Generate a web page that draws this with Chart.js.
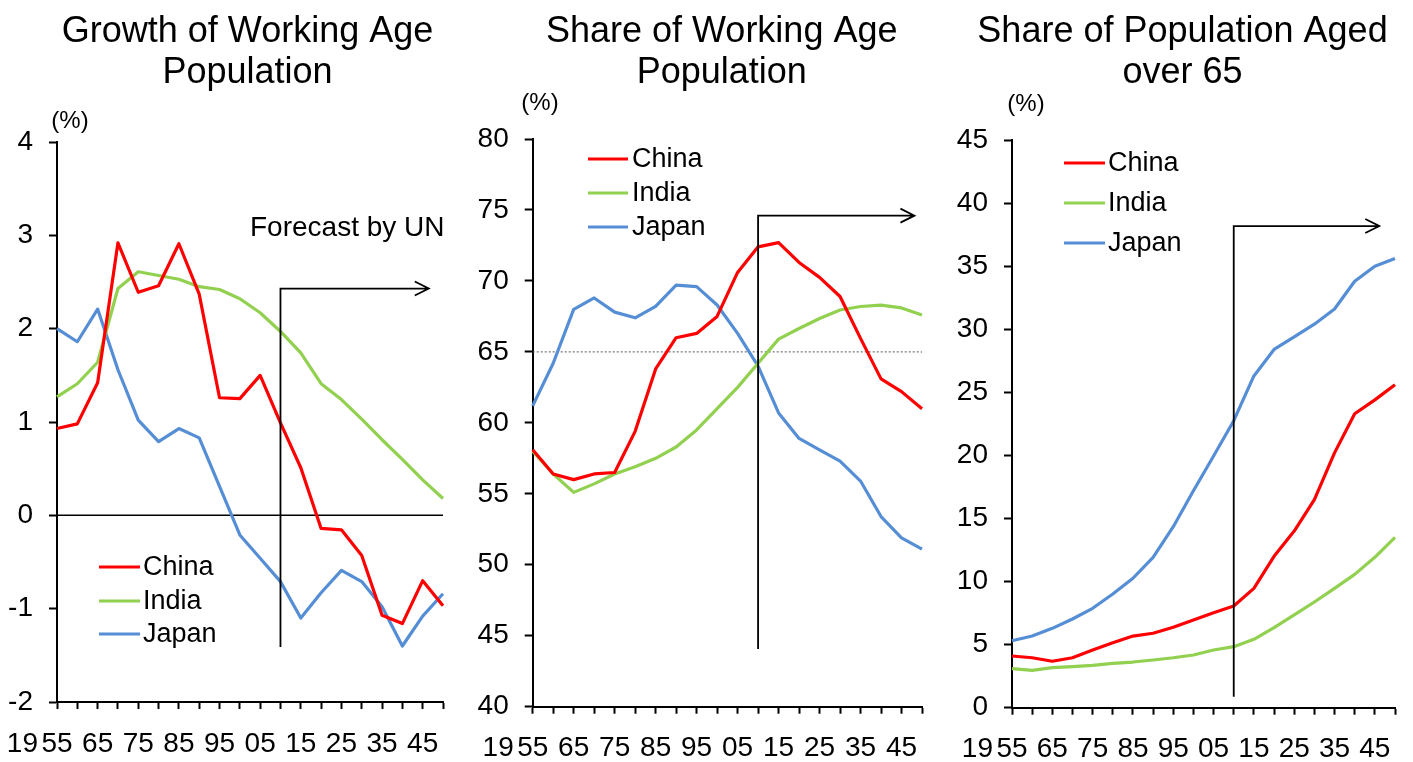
<!DOCTYPE html>
<html>
<head>
<meta charset="utf-8">
<script src="https://cdn.jsdelivr.net/npm/chart.js@4.4.1/dist/chart.umd.min.js"></script>
<style>
  body { margin: 0; background: #fff; }
  .panel { position: absolute; top: 0; }
</style>
</head>
<body>
<div class="panel" style="left:0px"><canvas id="c1" width="470" height="762"></canvas></div>
<div class="panel" style="left:470px"><canvas id="c2" width="470" height="762"></canvas></div>
<div class="panel" style="left:940px"><canvas id="c3" width="473" height="762"></canvas></div>
<script>
// categories, every 5 years
const years = ['1955','1960','1965','1970','1975','1980','1985','1990','1995','2000',
               '2005','2010','2015','2020','2025','2030','2035','2040','2045','2050'];
const xTickLabels = ['55','','65','','75','','85','','95','',
                     '05','','15','','25','','35','','45',''];
const countries = ['China', 'India', 'Japan'];

// growth of working age population (%)
const growthChina = [0.93, 0.98, 1.42, 2.92, 2.39, 2.46, 2.91, 2.37, 1.26, 1.25,
                     1.50, 0.99, 0.51, -0.14, -0.155, -0.43, -1.07, -1.16, -0.70, -0.97];
const growthIndia = [1.27, 1.41, 1.64, 2.43, 2.61, 2.57, 2.53, 2.45, 2.42, 2.32,
                     2.17, 1.97, 1.74, 1.41, 1.24, 1.03, 0.81, 0.60, 0.38, 0.18];
const growthJapan = [2.00, 1.86, 2.21, 1.56, 1.02, 0.79, 0.93, 0.83, 0.31, -0.21,
                     -0.46, -0.71, -1.10, -0.83, -0.59, -0.71, -0.98, -1.40, -1.08, -0.84];

// share of working age population (%)
const shareChina = [58.1, 56.4, 56.0, 56.4, 56.5, 59.4, 63.8, 66.0, 66.3, 67.5,
                    70.6, 72.4, 72.7, 71.3, 70.25, 68.9, 65.95, 63.1, 62.2, 61.0];
const shareIndia = [58.0, 56.4, 55.1, 55.7, 56.4, 56.9, 57.5, 58.3, 59.5, 61.0,
                    62.5, 64.2, 65.9, 66.65, 67.35, 67.95, 68.2, 68.3, 68.1, 67.6];
const shareJapan = [61.2, 64.2, 68.0, 68.8, 67.8, 67.4, 68.2, 69.7, 69.6, 68.3,
                    66.3, 64.0, 60.7, 58.9, 58.1, 57.3, 55.9, 53.4, 51.9, 51.1];

// share of population aged over 65 (%)
const agedChina = [4.10, 3.96, 3.68, 3.96, 4.57, 5.15, 5.68, 5.90, 6.37, 6.95,
                   7.53, 8.06, 9.46, 12.0, 14.0, 16.5, 20.2, 23.3, 24.4, 25.6];
const agedIndia = [3.09, 2.96, 3.17, 3.25, 3.36, 3.52, 3.62, 3.78, 3.96, 4.18,
                   4.57, 4.84, 5.42, 6.34, 7.35, 8.38, 9.46, 10.57, 11.92, 13.5];
const agedJapan = [5.31, 5.68, 6.29, 7.03, 7.88, 9.01, 10.26, 11.92, 14.35, 17.2,
                   19.95, 22.75, 26.3, 28.4, 29.4, 30.4, 31.6, 33.8, 35.0, 35.6];

const colors = ['#FF0000', '#92D050', '#558ED5'];
const FONT = "'Liberation Sans', Arial, sans-serif";
const TICK_SIZE = 28, TICK_LEN_X = 7, TICK_PAD_X = 18;
Chart.defaults.font.family = FONT;
Chart.defaults.color = '#000';

// draws titles, unit label, legend, reference line and forecast arrow
const decor = {
    id: 'decor',
    beforeDatasetsDraw(chart, args, o) {
        const ctx = chart.ctx, xs = chart.scales.x, ys = chart.scales.y;
        if (o.refLine) {
            const y = ys.getPixelForValue(o.refLine.value);
            ctx.save();
            ctx.strokeStyle = o.refLine.color;
            ctx.lineWidth = o.refLine.width;
            ctx.setLineDash(o.refLine.dash);
            ctx.beginPath();
            ctx.moveTo(xs.left, y);
            ctx.lineTo(xs.right, y);
            ctx.stroke();
            ctx.restore();
        }
    },
    afterDraw(chart, args, o) {
        const ctx = chart.ctx, xs = chart.scales.x, ys = chart.scales.y;
        ctx.save();
        ctx.fillStyle = '#000';
        // title
        ctx.font = '36px ' + FONT;
        ctx.textAlign = 'center';
        ctx.textBaseline = 'alphabetic';
        o.title.forEach((t, i) => ctx.fillText(t, o.titleX, 42 + i * 41));
        // unit
        ctx.font = '24px ' + FONT;
        ctx.textBaseline = 'middle';
        ctx.fillText('(%)', o.unitX, o.unitY);
        // "19" before the first year label
        ctx.font = TICK_SIZE + 'px ' + FONT;
        ctx.textAlign = 'right';
        const ly = xs.top + TICK_LEN_X + TICK_PAD_X + TICK_SIZE * 0.6;
        ctx.fillText('19', xs.getPixelForValue(0) - 19, ly);
        // legend
        ctx.font = '27px ' + FONT;
        ctx.textAlign = 'left';
        chart.data.datasets.forEach((ds, i) => {
            const y = o.legend.ys[i];
            ctx.strokeStyle = ds.borderColor;
            ctx.lineWidth = 3;
            ctx.beginPath();
            ctx.moveTo(o.legend.x1, y);
            ctx.lineTo(o.legend.x2, y);
            ctx.stroke();
            ctx.fillText(ds.label, o.legend.tx, y + 1);
        });
        // forecast arrow
        const f = o.forecast;
        const fx = xs.getPixelForValue(years.indexOf(f.from));
        const ft = ys.getPixelForValue(f.top);
        const fb = ys.getPixelForValue(f.bottom);
        const fe = xs.getPixelForValue(f.end);
        ctx.strokeStyle = '#000';
        ctx.lineWidth = 1.8;
        ctx.beginPath();
        ctx.moveTo(fx, fb);
        ctx.lineTo(fx, ft);
        ctx.lineTo(fe, ft);
        ctx.moveTo(fe - 14, ft - 7);
        ctx.lineTo(fe, ft);
        ctx.lineTo(fe - 14, ft + 7);
        ctx.stroke();
        if (o.note) {
            ctx.font = '28px ' + FONT;
            ctx.textAlign = 'left';
            ctx.fillText(o.note.text, o.note.x, o.note.y);
        }
        ctx.restore();
    }
};

function makeChart(id, W, area, series, yCfg, deco) {
    const H = 762, xH = H - area.bottom;
    return new Chart(document.getElementById(id), {
        type: 'line',
        data: {
            labels: years,
            datasets: series.map((d, i) => ({
                label: countries[i],
                data: d,
                borderColor: colors[i],
                backgroundColor: colors[i],
                borderWidth: 3.2,
                pointRadius: 0,
                tension: 0,
                fill: false,
                borderJoinStyle: 'round'
            }))
        },
        options: {
            responsive: false,
            animation: false,
            layout: {
                padding: { left: 0, top: area.top, right: W - area.right, bottom: 0 }
            },
            plugins: {
                legend: { display: false },
                tooltip: { enabled: false },
                decor: deco
            },
            scales: {
                x: {
                    afterFit: s => { s.height = xH; },
                    border: { color: '#000', width: 2 },
                    grid: { drawOnChartArea: false, drawTicks: true, tickLength: TICK_LEN_X, tickColor: '#000', tickWidth: 2 },
                    ticks: {
                        autoSkip: false, maxRotation: 0, padding: TICK_PAD_X,
                        font: { size: TICK_SIZE }, color: '#000',
                        callback: (v, i) => xTickLabels[i]
                    }
                },
                y: {
                    min: yCfg.min, max: yCfg.max,
                    afterFit: s => { s.width = area.left; },
                    border: { color: '#000', width: 2 },
                    grid: { drawOnChartArea: false, drawTicks: true, tickLength: 8, tickColor: '#000', tickWidth: 2 },
                    ticks: {
                        stepSize: yCfg.step, padding: 16,
                        font: { size: TICK_SIZE }, color: '#000',
                        callback: v => String(v)
                    }
                }
            }
        },
        plugins: [decor]
    });
}

makeChart('c1', 470, { left: 57, right: 443, top: 142, bottom: 702 },
    [growthChina, growthIndia, growthJapan], { min: -2, max: 4, step: 1 },
    {
        title: ['Growth of Working Age', 'Population'], titleX: 247.5,
        unitX: 70, unitY: 121,
        legend: { x1: 99, x2: 140, tx: 143, ys: [567, 601, 634] },
        refLine: { value: 0, color: '#000', width: 1.5, dash: [] },
        forecast: { from: '2010', top: 2.43, bottom: -1.41, end: 18.3 },
        note: { text: 'Forecast by UN', x: 250, y: 228 }
    });

makeChart('c2', 470, { left: 62.7, right: 455.3, top: 139, bottom: 706.7 },
    [shareChina, shareIndia, shareJapan], { min: 40, max: 80, step: 5 },
    {
        title: ['Share of Working Age', 'Population'], titleX: 251.7,
        unitX: 70, unitY: 103,
        legend: { x1: 118, x2: 158, tx: 162, ys: [159, 193, 227] },
        refLine: { value: 65, color: '#555', width: 1, dash: [2, 2] },
        forecast: { from: '2010', top: 74.6, bottom: 44.06, end: 18.63 }
    });

makeChart('c3', 473, { left: 72, right: 461, top: 140, bottom: 707.7 },
    [agedChina, agedIndia, agedJapan], { min: 0, max: 45, step: 5 },
    {
        title: ['Share of Population Aged', 'over 65'], titleX: 242.5,
        unitX: 86, unitY: 104,
        legend: { x1: 124, x2: 165, tx: 168, ys: [163, 203, 243] },
        forecast: { from: '2010', top: 38.18, bottom: 0.87, end: 18.22 }
    });
</script>
</body>
</html>
